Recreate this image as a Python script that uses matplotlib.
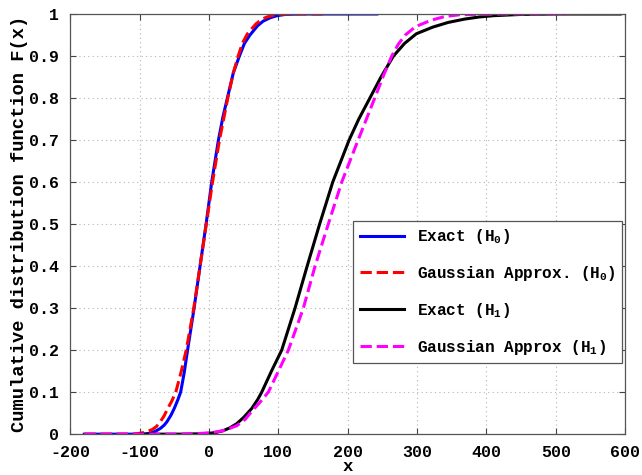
import numpy as np
import matplotlib
matplotlib.use('Agg')
import matplotlib.pyplot as plt

plt.rcParams['font.family'] = ['Liberation Mono', 'DejaVu Sans Mono']
plt.rcParams['font.weight'] = 'bold'
plt.rcParams['mathtext.default'] = 'regular'
plt.rcParams['axes.unicode_minus'] = False

# exact CDF under H0
x_h0 = [-180, -100, -92, -86, -80, -75, -70, -65, -61, -55, -50, -45, -41, -36, -31,
        -21.6, -13, -4.3, 3.8, 13.5, 20, 26.4, 35, 43.8, 51, 59, 70, 78, 88, 98,
        110, 130, 242]
F_h0 = [0, 0, 0.0005, 0.002, 0.005, 0.009, 0.014, 0.021, 0.029, 0.045, 0.062, 0.082,
        0.1, 0.145, 0.2, 0.3, 0.4, 0.5, 0.6, 0.7, 0.755, 0.8, 0.86, 0.9, 0.93, 0.95,
        0.972, 0.983, 0.991, 0.996, 0.999, 1, 1]

# gaussian approx under H0
xg_h0 = [-180, -115, -106, -100, -94, -88, -82, -76, -70.7, -65, -60, -54, -48, -40,
         -33, -22, -13, -4, 5, 15, 27, 35, 42, 48, 55, 62, 68, 75, 82, 90, 100, 120, 170]
Fg_h0 = [0, 0, 0.001, 0.002, 0.004, 0.007, 0.011, 0.018, 0.029, 0.043, 0.06, 0.078,
         0.1, 0.15, 0.2, 0.3, 0.4, 0.5, 0.6, 0.7, 0.8, 0.86, 0.9, 0.93, 0.952, 0.966,
         0.977, 0.986, 0.992, 0.996, 0.999, 1, 1]

# exact CDF under H1
x_h1 = [-100, -40, -15, 0, 10, 20, 30, 40, 50, 61.5, 70, 76, 90, 104.8, 124, 141.5,
        159.5, 178.4, 202, 216, 232, 248, 266, 282, 299, 323, 345, 369, 390, 410, 450,
        500, 593]
F_h1 = [0, 0, 0.0008, 0.002, 0.004, 0.008, 0.015, 0.025, 0.04, 0.061, 0.082, 0.1, 0.15,
        0.2, 0.3, 0.4, 0.5, 0.6, 0.7, 0.75, 0.8, 0.85, 0.9, 0.93, 0.953, 0.969, 0.98,
        0.988, 0.993, 0.996, 0.999, 1, 1]

# gaussian approx under H1
xg_h1 = [-180, -60, -20, 0, 20, 40, 52, 62, 74, 85.5, 100, 114.4, 136, 152.9, 172,
         191.4, 215, 239, 252, 263.5, 273, 283, 298, 320, 340, 360, 380, 420, 516]
Fg_h1 = [0, 0, 0.001, 0.003, 0.008, 0.02, 0.035, 0.055, 0.077, 0.1, 0.15, 0.2, 0.3,
         0.4, 0.5, 0.6, 0.7, 0.8, 0.855, 0.9, 0.928, 0.95, 0.97, 0.985, 0.994, 0.998,
         0.999, 1, 1]

fig = plt.figure(figsize=(6.42, 4.75), dpi=100)
ax = fig.add_axes([0.1097, 0.086, 0.8638, 0.8845])

lw = 2.2
ax.plot(x_h0, F_h0, '-', color='#0000ff', lw=lw, label='Exact (H$_0$)')
ax.plot(xg_h0, Fg_h0, '--', color='#ff0000', lw=lw, label='Gaussian Approx. (H$_0$)')
ax.plot(x_h1, F_h1, '-', color='black', lw=lw, label='Exact (H$_1$)')
ax.plot(xg_h1, Fg_h1, '--', color='#ff00ff', lw=lw, label='Gaussian Approx (H$_1$)')

ax.set_xlim(-200, 600)
ax.set_ylim(0, 1)
ax.set_xticks(np.arange(-200, 601, 100))
ax.set_yticks(np.arange(0, 1.01, 0.1))
ax.set_yticklabels(['0', '0.1', '0.2', '0.3', '0.4', '0.5', '0.6', '0.7', '0.8', '0.9', '1'])
ax.grid(True, color='#b5b5b5', linestyle=(0, (1, 3)), lw=0.8)
ax.tick_params(direction='in', top=True, right=True, length=4, width=0.8,
               color='#444444', labelsize=12)
ax.tick_params(axis='y', pad=8)
ax.tick_params(axis='x', pad=8)
for s in ax.spines.values():
    s.set_color('#555555')
    s.set_linewidth(0.9)

ax.set_xlabel('x', fontsize=12.5, fontweight='bold', labelpad=-1)
ax.set_ylabel('Cumulative distribution function F(x)', fontsize=13.5,
              fontweight='bold', labelpad=1)

leg = ax.legend(loc='upper left', bbox_to_anchor=(0.51, 0.508), fontsize=11.5,
                handlelength=2.8, labelspacing=1.12, fancybox=False,
                edgecolor='#555555', framealpha=1, borderaxespad=0)
leg.get_frame().set_linewidth(0.9)

fig.savefig('out.png', dpi=100)
